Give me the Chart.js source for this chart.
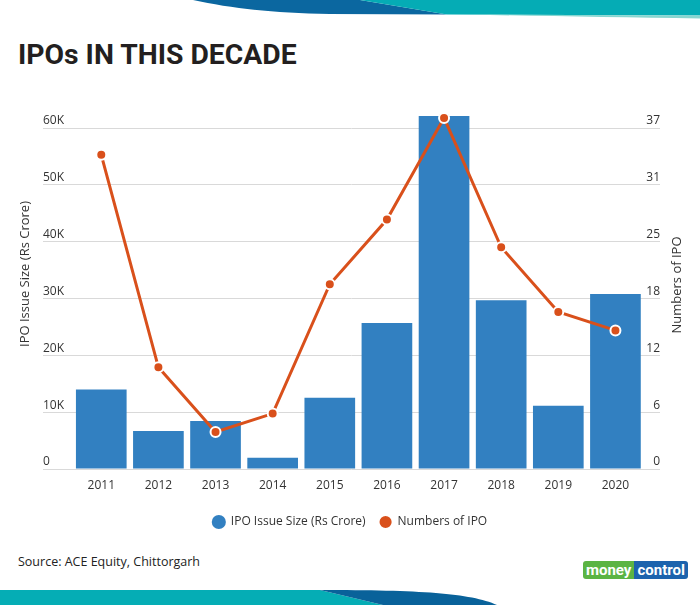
<!DOCTYPE html>
<html>
<head>
<meta charset="utf-8">
<script src="https://cdn.jsdelivr.net/npm/chart.js@4.4.1/dist/chart.umd.min.js"></script>
<style>
html, body { margin: 0; padding: 0; background: #fff; }
body { width: 700px; height: 605px; position: relative; overflow: hidden; font-family: 'Open Sans', sans-serif; }
#topWave { position: absolute; left: 0; top: 0; }
#bottomWave { position: absolute; left: 0; top: 585px; }
#title { position: absolute; left: 18px; top: 41px; font-family: Roboto, sans-serif; font-weight: 700; font-size: 28px; line-height: 28px; color: #231f20; white-space: nowrap; transform-origin: left top; }
#chartBox { position: absolute; left: 0; top: 90px; width: 700px; height: 456px; }
#source { position: absolute; left: 18px; top: 553px; font-size: 12.5px; line-height: 18px; color: #222; white-space: nowrap; }
#logo { position: absolute; left: 583px; top: 561px; height: 18px; font-family: Roboto, sans-serif; font-weight: 700; font-size: 15px; line-height: 18px; color: #fff; white-space: nowrap; display: flex; transform-origin: left top; }
#logo span { display: block; height: 18px; padding: 0 3px; }
#logo .g { background: #5bb443; border-radius: 3px 0 0 3px; }
#logo .b { background: #1c63ad; border-radius: 0 3px 3px 0; }
</style>
</head>
<body>
<svg id="topWave" width="700" height="20">
  <path d="M193,0 C230,8 270,13 330,14 L447,14.5 L360,0 Z" fill="#0b67a0"/>
  <path d="M360,0 L447,14.5 L700,15.5 L700,0 Z" fill="#05acb5"/>
  <path d="M470,14.6 L700,15.5 L700,18.5 C620,17.5 540,16 470,14.6 Z" fill="#86d6d0"/>
</svg>
<div id="title">IPOs IN THIS DECADE</div>
<div id="chartBox"><canvas id="ipoChart"></canvas></div>
<div id="source">Source: ACE Equity, Chittorgarh</div>
<div id="logo"><span class="g">money</span><span class="b">control</span></div>
<svg id="bottomWave" width="700" height="20">
  <path d="M0,5 L320,5 L383,20 L0,20 Z" fill="#05adb5"/>
  <path d="M320,5 C420,5 470,8 497,20 L383,20 Z" fill="#09629a"/>
</svg>
<script>
// --- DATA ---
const years = ['2011', '2012', '2013', '2014', '2015', '2016', '2017', '2018', '2019', '2020'];
const issueSize = [14000, 6700, 8450, 2000, 12550, 25700, 62100, 29700, 11150, 30800];
const ipoCount = [34, 11, 4, 6, 20, 27, 38, 24, 17, 15];

const leftTicks = [0, 10000, 20000, 30000, 40000, 50000, 60000];
const leftTickLabels = ['0', '10K', '20K', '30K', '40K', '50K', '60K'];
const rightTicks = [0, 6.15, 12.3, 18.45, 24.6, 30.75, 36.9];
const rightTickLabels = ['0', '6', '12', '18', '25', '31', '37'];

const leftTitle = 'IPO Issue Size (Rs Crore)';
const rightTitle = 'Numbers of IPO';

// --- HEADER / LOGO: squeeze to the reference widths ---
const titleEl = document.getElementById('title');
titleEl.style.transform = `scaleX(${279 / titleEl.offsetWidth})`;
const logoEl = document.getElementById('logo');
logoEl.style.transform = `scaleX(${105 / logoEl.offsetWidth})`;

// --- CHART ---
const BLUE = '#3280c1';
const ORANGE = '#d9501b';
const tickFont = { family: "'Open Sans', sans-serif", size: 12 };
const leftMax = 63000;
const rightMax = rightTicks[6] * leftMax / leftTicks[6];

// axis titles, both reading bottom-to-top
const axisTitles = {
    id: 'axisTitles',
    afterDraw(chart) {
        const { ctx, scales } = chart;
        const mid = (scales.y.top + scales.y.bottom) / 2;
        ctx.save();
        ctx.fillStyle = '#333';
        ctx.font = "13px 'Open Sans', sans-serif";
        ctx.textAlign = 'center';
        ctx.textBaseline = 'middle';
        [[scales.y.left + 25, mid - 16, leftTitle], [scales.y2.right - 23, mid - 5, rightTitle]].forEach(([x, y, t]) => {
            ctx.save();
            ctx.translate(x, y);
            ctx.rotate(-Math.PI / 2);
            ctx.fillText(t, 0, 0);
            ctx.restore();
        });
        ctx.restore();
    }
};

new Chart(document.getElementById('ipoChart'), {
    type: 'bar',
    data: {
        datasets: [
            {
                label: leftTitle,
                data: issueSize.map((v, i) => ({ x: i, y: v })),
                backgroundColor: BLUE,
                barPercentage: 0.887,
                categoryPercentage: 1,
                yAxisID: 'y',
                order: 2
            },
            {
                type: 'line',
                label: rightTitle,
                data: ipoCount.map((v, i) => ({ x: i, y: v })),
                borderColor: ORANGE,
                backgroundColor: ORANGE,
                borderWidth: 3,
                pointRadius: 5,
                pointBackgroundColor: ORANGE,
                pointBorderColor: '#fff',
                pointBorderWidth: 2,
                tension: 0,
                yAxisID: 'y2',
                order: 1
            }
        ]
    },
    options: {
        responsive: true,
        maintainAspectRatio: false,
        animation: false,
        layout: { padding: { top: 21, bottom: 8, left: 0, right: 0 } },
        plugins: {
            tooltip: { enabled: false },
            legend: {
                position: 'bottom',
                labels: {
                    usePointStyle: true,
                    pointStyle: 'circle',
                    boxWidth: 12,
                    boxHeight: 10,
                    padding: 14,
                    color: '#333',
                    font: tickFont,
                    sort: (a, b) => a.datasetIndex - b.datasetIndex
                }
            }
        },
        scales: {
            x: {
                type: 'linear',
                min: -1.02,
                max: 9.78,
                offset: false,
                grid: { display: false },
                border: { display: false },
                afterBuildTicks: s => { s.ticks = years.map((_, i) => ({ value: i })); },
                afterFit: s => { s.height = 33; },
                ticks: {
                    autoSkip: false,
                    maxRotation: 0,
                    padding: 1,
                    color: '#333',
                    font: tickFont,
                    callback: v => years[v]
                }
            },
            y: {
                position: 'left',
                min: 0,
                max: leftMax,
                afterBuildTicks: s => { s.ticks = leftTicks.map(v => ({ value: v })); },
                afterFit: s => { s.width = 43; },
                grid: { color: '#d9d9d9', drawTicks: false },
                border: { display: false },
                ticks: {
                    mirror: true,
                    padding: 0,
                    labelOffset: -7,
                    color: '#333',
                    font: tickFont,
                    callback: (v, i) => leftTickLabels[i]
                }
            },
            y2: {
                position: 'right',
                min: 0,
                max: rightMax,
                afterBuildTicks: s => { s.ticks = rightTicks.map(v => ({ value: v })); },
                afterFit: s => { s.width = 40; },
                grid: { display: false },
                border: { display: false },
                ticks: {
                    mirror: true,
                    padding: 0,
                    labelOffset: -7,
                    color: '#333',
                    font: tickFont,
                    callback: (v, i) => rightTickLabels[i]
                }
            }
        }
    },
    plugins: [axisTitles]
});
</script>
</body>
</html>
